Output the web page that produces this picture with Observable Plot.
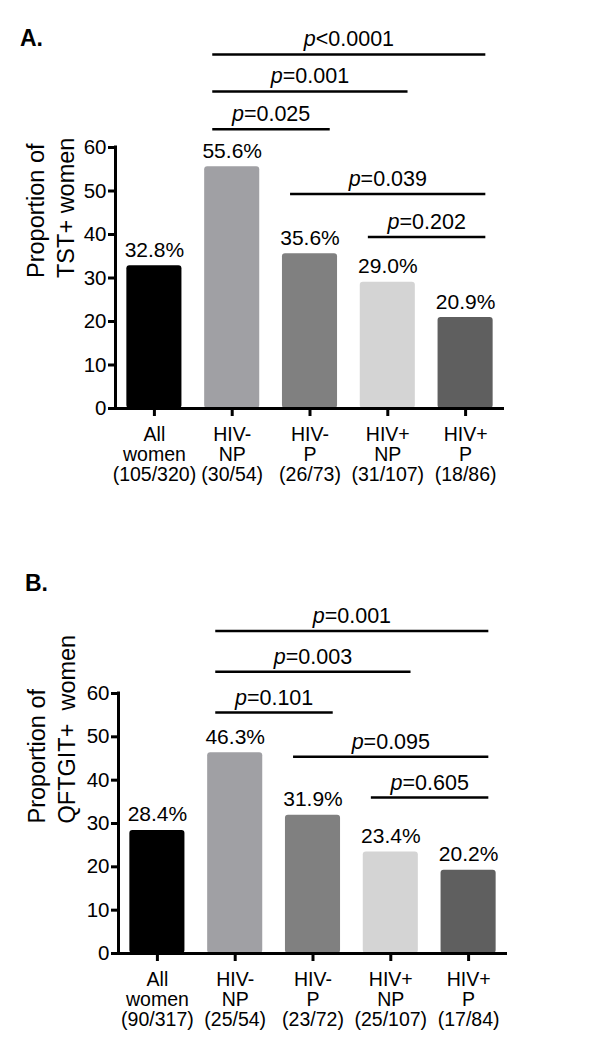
<!DOCTYPE html>
<html><head><meta charset="utf-8">
<script src="https://cdn.jsdelivr.net/npm/d3@7"></script>
<script src="https://cdn.jsdelivr.net/npm/@observablehq/plot@0.6"></script>
<style>
body{margin:0;background:#fff;font-family:"Liberation Sans",Arial,sans-serif;}
.panel{position:relative;width:606px;height:525px;overflow:visible;}
.panel svg{position:absolute;left:0;top:0;}
.panel-label{position:absolute;font-weight:bold;font-size:23px;line-height:1;font-family:"Liberation Sans",Arial,sans-serif;z-index:2;}
svg text{white-space:pre;}
</style></head><body>
<div id="a" class="panel"><div class="panel-label" style="left:20px;top:27px">A.</div></div>
<div id="b" class="panel"><div class="panel-label" style="left:25px;top:47px">B.</div></div>
<script>
const groups = ["All\nwomen", "HIV-\nNP", "HIV-\nP", "HIV+\nNP", "HIV+\nP"];
const barColors = ["#000000", "#a0a0a4", "#808080", "#d4d4d4", "#5f5f5f"];

// Panel A: TST
const tstValues = [32.8, 55.6, 35.6, 29.0, 20.9];
const tstLabels = ["32.8%", "55.6%", "35.6%", "29.0%", "20.9%"];
const tstCounts = ["(105/320)", "(30/54)", "(26/73)", "(31/107)", "(18/86)"];
const tstPLabels = ["p<0.0001", "p=0.001", "p=0.025", "p=0.039", "p=0.202"];
const tstPFrom = [1, 1, 1, 2, 3];
const tstPTo = [4, 3, 2, 4, 4];
const tstPLevel = [81.4, 72.9, 64.2, 49.3, 39.4];

// Panel B: QFTGIT
const qftValues = [28.4, 46.3, 31.9, 23.4, 19.2];
const qftLabels = ["28.4%", "46.3%", "31.9%", "23.4%", "20.2%"];
const qftCounts = ["(90/317)", "(25/54)", "(23/72)", "(25/107)", "(17/84)"];
const qftPLabels = ["p=0.001", "p=0.003", "p=0.101", "p=0.095", "p=0.605"];
const qftPFrom = [1, 1, 1, 2, 3];
const qftPTo = [4, 3, 2, 4, 4];
const qftPLevel = [74.4, 65.0, 55.6, 45.4, 36.0];

const yTicks = [0, 10, 20, 30, 40, 50, 60];

function italicP(svg) {
  const ns = "http://www.w3.org/2000/svg";
  svg.querySelectorAll("text").forEach(t => {
    if (t.children.length === 0 && /^p[=<]/.test(t.textContent)) {
      const rest = t.textContent.slice(1);
      t.textContent = "";
      const ts = document.createElementNS(ns, "tspan");
      ts.setAttribute("font-style", "italic");
      ts.textContent = "p";
      t.appendChild(ts);
      t.appendChild(document.createTextNode(rest));
    }
  });
}

function panel(values, labels, counts, pLabels, pFrom, pTo, pLevel, ylabel, m) {
  const data = values.map((v, i) => ({i, v, label: labels[i]}));
  const br = pLabels.map((p, k) => ({p, from: pFrom[k], to: pTo[k], y: pLevel[k]}));
  const half = 0.354;
  const svg = Plot.plot({
    width: 606, height: 525,
    marginLeft: m.ml, marginRight: m.mr, marginTop: m.mt, marginBottom: m.mb,
    style: {fontFamily: "Liberation Sans, Arial, sans-serif", background: "white", color: "black", overflow: "visible"},
    x: {domain: [-0.5, 4.5]},
    y: {domain: [0, 60]},
    color: {type: "ordinal", domain: [0, 1, 2, 3, 4], range: barColors},
    marks: [
      Plot.rect(data, {x1: d => d.i - half, x2: d => d.i + half, y1: 0, y2: "v", fill: "i", rx: 3}),
      Plot.text(data, {x: "i", y: "v", text: "label", dy: -9, lineAnchor: "bottom", fontSize: 21}),
      Plot.ruleY(br, {x1: d => d.from - 0.25, x2: d => d.to + 0.26, y: "y", strokeWidth: 2.5}),
      Plot.text(br, {x: d => (d.from + d.to) / 2, y: "y", text: "p", dy: -8, lineAnchor: "bottom", fontSize: 21.5}),
      Plot.ruleX([-0.5], {y1: 0, y2: 60, strokeWidth: 3, strokeLinecap: "square"}),
      Plot.ruleY([0], {strokeWidth: 3}),
      Plot.axisY({ticks: yTicks, tickSize: 7, tickPadding: 2, strokeWidth: 3, fontSize: 20.5, label: null}),
      Plot.axisX({ticks: [0, 1, 2, 3, 4], tickFormat: i => groups[i] + "\n" + counts[i], tickSize: 8, tickPadding: 10, strokeWidth: 3, fontSize: 19.5, lineHeight: 1.03, label: null}),
      Plot.text([ylabel], {frameAnchor: "left", text: d => d, rotate: -90, dx: m.ldx, lineAnchor: "middle", fontSize: 23.5, lineHeight: 1.28})
    ]
  });
  italicP(svg);
  return svg;
}

document.getElementById("a").appendChild(panel(tstValues, tstLabels, tstCounts, tstPLabels, tstPFrom, tstPTo, tstPLevel,
  "Proportion of\nTST+ women", {ml: 115, mr: 102, mt: 147, mb: 117, ldx: -66}));
document.getElementById("b").appendChild(panel(qftValues, qftLabels, qftCounts, qftPLabels, qftPFrom, qftPTo, qftPLevel,
  "Proportion of\nQFTGIT+  women", {ml: 118, mr: 99, mt: 168, mb: 97, ldx: -68}));
</script></body></html>
